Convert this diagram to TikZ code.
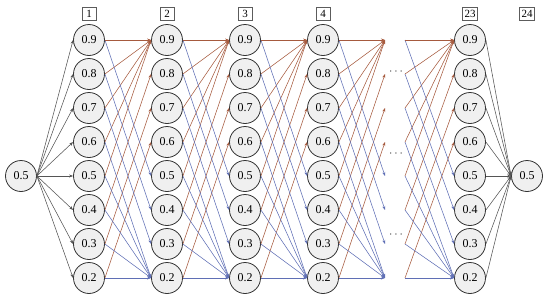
\documentclass[tikz,border=0pt]{standalone}
\usepackage{tikz}
\usepackage{fontspec}
\setmainfont{Liberation Serif}
\usetikzlibrary{arrows.meta,positioning,calc}
\definecolor{ink}{HTML}{333333}
\definecolor{rust}{HTML}{A65A3E}
\definecolor{steel}{HTML}{5F6FB5}
\definecolor{greyline}{HTML}{555555}
\definecolor{disc}{HTML}{F0F0F0}
\tikzset{
  soc/.style={circle,draw=ink,fill=disc,line width=0.8pt,minimum size=31pt,inner sep=0pt,font=\fontsize{12}{14}\selectfont},
  hourbox/.style={draw=ink!80,fill=white,line width=0.6pt,minimum width=14pt,minimum height=13pt,inner sep=2pt,font=\fontsize{11}{13}\selectfont},
  up/.style={rust,line width=0.55pt,-{Stealth[length=4pt,width=3pt]}},
  down/.style={steel,line width=0.55pt,-{Stealth[length=4pt,width=3pt]}},
  feed/.style={greyline,line width=0.55pt,-{Stealth[length=4pt,width=3pt]}},
}

\begin{document}
\begin{tikzpicture}[x=1pt,y=-1pt]
  \useasboundingbox (0,0) rectangle (550,298);
  % hour columns
  \foreach \c/\x in {1/89,2/167,3/245,4/323,23/470}{
    \node[hourbox] (h\c) at (\x,14) {\c};
    \foreach \v in {2,...,9}
      \node[soc] (n\c-\v) at (\x,{40+(9-\v)*34}) {0.\v};
  }
  \node[hourbox] (h24) at (527,14) {24};
  \node[soc] (start) at (21,176) {0.5};
  \node[soc] (end) at (527,176) {0.5};
  % cut between hour 4 and hour 23
  \foreach \v in {2,...,9}{
    \coordinate (p\v) at (385,{40+(9-\v)*34});
    \coordinate (q\v) at (405,{40+(9-\v)*34});
  }
  \node[font=\large,text=ink] (gap1) at (396,72) {$\cdots$};
  \node[font=\large,text=ink] (gap2) at (396,154) {$\cdots$};
  \node[font=\large,text=ink] (gap3) at (396,235) {$\cdots$};
  % first and last hour
  \foreach \v in {2,...,9}{
    \draw[feed] (start.east) -- (n1-\v.west);
    \draw[feed] (n23-\v.east) -- (end.west);
  }
  % charge / discharge
  \foreach \a/\b in {1/2,2/3,3/4}
    \foreach \v in {2,...,9}{
      \pgfmathtruncatemacro\hi{min(\v+4,9)}
      \pgfmathtruncatemacro\lo{max(\v-4,2)}
      \draw[down] (n\a-\v.east) -- (n\b-\lo.west);
      \draw[up] (n\a-\v.east) -- (n\b-\hi.west);
    }
  \foreach \v in {2,...,9}{
    \pgfmathtruncatemacro\hi{min(\v+4,9)}
    \pgfmathtruncatemacro\lo{max(\v-4,2)}
    \draw[down] (n4-\v.east) -- (p\lo);
    \draw[up] (n4-\v.east) -- (p\hi);
    \draw[down] (q\v) -- (n23-\lo.west);
    \draw[up] (q\v) -- (n23-\hi.west);
  }
\end{tikzpicture}
\end{document}
